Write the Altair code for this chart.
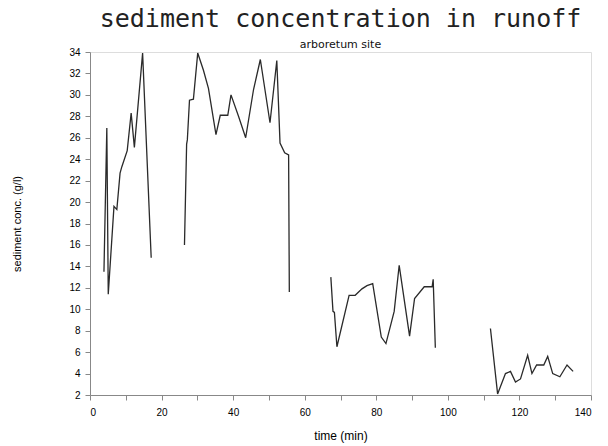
import altair as alt
import pandas as pd

# segment 1
seg1_t = [3.9, 4.7, 5.1, 6.7, 7.5, 8.4, 8.9, 10.4, 11.5, 12.4, 14.7, 17.1]
seg1_c = [13.5, 26.9, 11.4, 19.6, 19.3, 22.7, 23.3, 24.8, 28.3, 25.1, 33.9, 14.8]
# segment 2
seg2_t = [26.4, 27.0, 27.2, 27.8, 28.9, 30.1, 31.7, 33.1, 35.2, 36.4, 38.5, 39.4,
          41.5, 43.5, 45.7, 47.6, 50.3, 52.2, 53.1, 54.4, 55.5, 55.7]
seg2_c = [16.0, 25.4, 25.8, 29.5, 29.6, 33.9, 32.3, 30.6, 26.3, 28.1, 28.1, 30.0,
          28.0, 26.0, 30.5, 33.3, 27.4, 33.2, 25.5, 24.6, 24.4, 11.6]
# segment 3
seg3_t = [67.3, 67.9, 68.3, 69.0, 72.4, 74.1, 76.0, 77.4, 79.0, 81.4, 82.7, 85.0,
          86.4, 89.3, 90.7, 93.4, 95.6, 95.9, 96.5]
seg3_c = [13.0, 9.8, 9.7, 6.5, 11.3, 11.3, 11.9, 12.2, 12.4, 7.4, 6.8, 9.8,
          14.1, 7.5, 11.0, 12.1, 12.1, 12.8, 6.4]
# segment 4
seg4_t = [111.9, 113.9, 116.1, 117.5, 118.9, 120.3, 122.3, 123.5, 124.8, 126.8,
          127.9, 129.3, 131.3, 133.3, 135.0]
seg4_c = [8.2, 2.1, 4.0, 4.2, 3.2, 3.5, 5.7, 4.0, 4.8, 4.8, 5.6, 4.0, 3.7, 4.8, 4.2]

x_ticks = list(range(0, 141, 10))
y_ticks = list(range(2, 35, 2))

rows = []
for sid, (ts, cs) in enumerate([(seg1_t, seg1_c), (seg2_t, seg2_c),
                                (seg3_t, seg3_c), (seg4_t, seg4_c)]):
    for i, (t, c) in enumerate(zip(ts, cs)):
        rows.append({"time": t, "conc": c, "seg": sid, "order": i})
df = pd.DataFrame(rows)

FONT = "DejaVu Sans"
MONO = "DejaVu Sans Mono"

chart = alt.Chart(df).mark_line(color="#2a2a2a", strokeWidth=1.3).encode(
    x=alt.X("time:Q",
            scale=alt.Scale(domain=[0, 140], nice=False, zero=False),
            axis=alt.Axis(values=x_ticks, title="time (min)", grid=False,
                          labelExpr="datum.value % 20 == 0 ? datum.label : ''",
                          titlePadding=13, labelPadding=7,
                          titleFontWeight="normal", titleFontSize=12)),
    y=alt.Y("conc:Q",
            scale=alt.Scale(domain=[2, 34], nice=False, zero=False),
            axis=alt.Axis(values=y_ticks, title="sediment conc. (g/l)", grid=False,
                          titlePadding=46, labelPadding=5,
                          titleFontWeight="normal", titleFontSize=11)),
    detail="seg:N",
    order="order:Q",
).properties(
    width=501,
    height=343,
    title=alt.TitleParams(
        text="sediment concentration in runoff",
        subtitle="arboretum site",
        fontSize=25,
        font=MONO,
        fontWeight="normal",
        subtitleFont=FONT,
        subtitleFontSize=11,
        subtitleColor="#111",
        subtitlePadding=7,
        color="#222",
        anchor="middle",
        offset=-3,
    ),
    autosize=alt.AutoSizeParams(type="none"),
    padding={"left": 90, "top": 52, "right": 17, "bottom": 51},
).configure_axis(
    grid=False,
    domainColor="#111",
    tickColor="#111",
    labelColor="#111",
    titleColor="#111",
    labelFont=FONT,
    titleFont=FONT,
    labelFontSize=13,
    tickSize=7,
).configure_view(
    stroke="#111",
    strokeWidth=1,
).configure(background="white")

chart.save("out.html", embed_options={"renderer": "svg", "actions": False})
